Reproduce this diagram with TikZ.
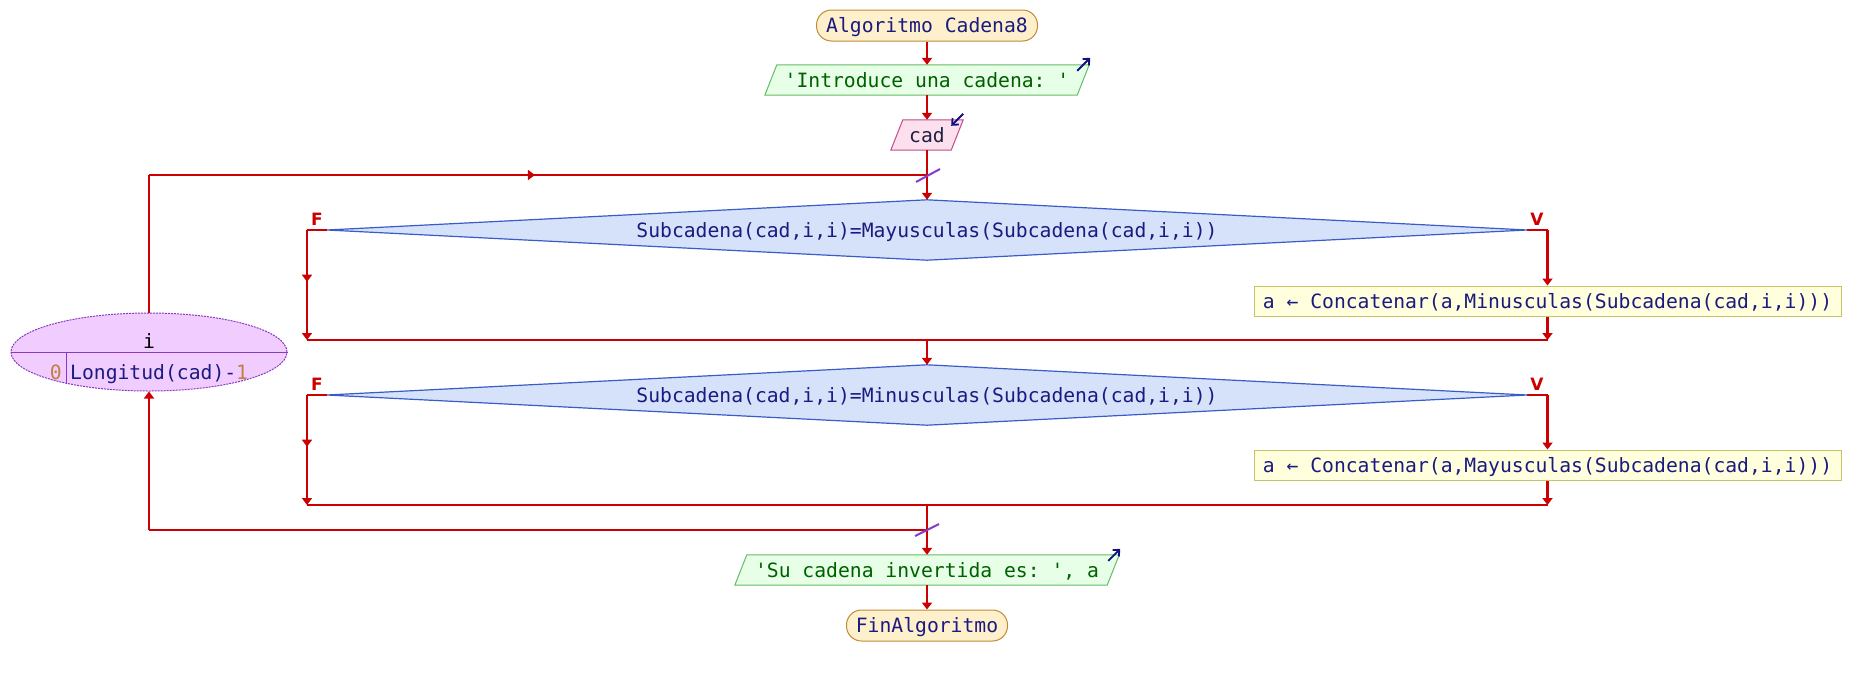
\documentclass[tikz,border=0pt]{standalone}
\usepackage{fontspec}
\setmonofont{DejaVu Sans Mono}
\newfontfamily\lblfont{DejaVu Sans}
\usetikzlibrary{arrows.meta,decorations.markings,backgrounds,shapes.geometric}
\definecolor{flowred}{HTML}{CC0000}
\definecolor{navytxt}{HTML}{1A1A80}
\definecolor{termfill}{HTML}{FFF0CC}
\definecolor{termdraw}{HTML}{C08A3A}
\definecolor{outfill}{HTML}{E6FFE6}
\definecolor{outdraw}{HTML}{66BB66}
\definecolor{outtxt}{HTML}{006000}
\definecolor{infill}{HTML}{FCE0EE}
\definecolor{indraw}{HTML}{C04C88}
\definecolor{intxt}{HTML}{202040}
\definecolor{difill}{HTML}{D6E2FA}
\definecolor{didraw}{HTML}{3A5CC8}
\definecolor{asfill}{HTML}{FFFFDD}
\definecolor{asdraw}{HTML}{C4C46A}
\definecolor{lpfill}{HTML}{F0CCFF}
\definecolor{lpdraw}{HTML}{8A3AC0}
\definecolor{numtxt}{HTML}{C08040}
\definecolor{slashc}{HTML}{8A3AC8}
\definecolor{iotipc}{HTML}{101080}
\tikzset{
  base/.style={font=\ttfamily\fontsize{19.7}{20}\selectfont, inner sep=0pt, text height=14pt, text depth=0pt, align=center},
  term/.style={base, draw=termdraw, fill=termfill, line width=1pt, rounded corners=15pt, minimum height=31pt, text=navytxt},
  iobox/.style={base, minimum height=30pt},
  outshape/.style={draw=outdraw, fill=outfill, line width=1pt},
  inshape/.style={draw=indraw, fill=infill, line width=1pt},
  condbox/.style={base, minimum height=60pt, minimum width=1200pt, text=navytxt},
  dishape/.style={draw=didraw, fill=difill, line width=1.2pt},
  asgn/.style={base, draw=asdraw, fill=asfill, line width=1pt, minimum width=587pt, minimum height=30pt, text=navytxt},
  loopnode/.style={ellipse, draw=lpdraw, fill=lpfill, line width=1pt, dash pattern=on 2pt off 1pt, minimum width=276pt, minimum height=78pt, inner sep=0pt},
  flow/.style={color=flowred, line width=2.2pt},
  tip/.style={-{Triangle[width=10pt,length=7pt]}},
  midtip/.style={postaction={decorate}, decoration={markings, mark=at position #1 with {\arrow{Triangle[width=10pt,length=7pt]}}}},
  slash/.style={draw=slashc, line width=2pt},
  lbl/.style={font=\lblfont\bfseries\fontsize{17}{17}\selectfont, text=flowred, inner sep=0pt},
  iomark/.style={draw=iotipc, line width=1.8pt, -{Straight Barb[length=5pt,width=9pt]}},
  smalltxt/.style={base, inner sep=0pt}
}
\begin{document}
\begin{tikzpicture}[x=1pt,y=-1pt]
\useasboundingbox (0,0) rectangle (1851,675);

% nodes
\node[term, minimum width=221pt] (start) at (927,25.5) {Algoritmo Cadena8};
\node[iobox, minimum width=312pt, text=outtxt] (out1) at (927,80) {'Introduce una cadena: '};
\node[iobox, minimum width=60pt, text=intxt] (cad) at (927,135) {cad};
\node[condbox] (d1) at (927,230) {Subcadena(cad,i,i)=Mayusculas(Subcadena(cad,i,i))};
\node[asgn] (a1) at (1547.5,301) {a ← Concatenar(a,Minusculas(Subcadena(cad,i,i)))};
\node[condbox] (d2) at (927,395) {Subcadena(cad,i,i)=Minusculas(Subcadena(cad,i,i))};
\node[asgn] (a2) at (1547.5,465) {a ← Concatenar(a,Mayusculas(Subcadena(cad,i,i)))};
\node[iobox, minimum width=372pt, text=outtxt] (out2) at (927,570) {'Su cadena invertida es: ', a};
\node[term, minimum width=161pt] (fin) at (927,625.5) {FinAlgoritmo};
\node[loopnode] (lp) at (149,352) {};

\begin{scope}[on background layer]
  \draw[outshape] ([xshift=6pt]out1.north west) -- ([xshift=6pt]out1.north east) -- ([xshift=-6pt]out1.south east) -- ([xshift=-6pt]out1.south west) -- cycle;
  \draw[inshape] ([xshift=6pt]cad.north west) -- ([xshift=6pt]cad.north east) -- ([xshift=-6pt]cad.south east) -- ([xshift=-6pt]cad.south west) -- cycle;
  \draw[outshape] ([xshift=6pt]out2.north west) -- ([xshift=6pt]out2.north east) -- ([xshift=-6pt]out2.south east) -- ([xshift=-6pt]out2.south west) -- cycle;
  \draw[dishape] (d1.west) -- (d1.north) -- (d1.east) -- (d1.south) -- cycle;
  \draw[dishape] (d2.west) -- (d2.north) -- (d2.east) -- (d2.south) -- cycle;
\end{scope}

% loop node contents
\draw[lpdraw, line width=1pt] (lp.west) -- (lp.east);
\coordinate (divtop) at (66,352);
\coordinate (divbot) at (66,384);
\draw[lpdraw, line width=1pt] (divtop) -- (divbot);
\node[smalltxt, text=black] (lvar) at (149,341) {i};
\node[smalltxt, text=numtxt, anchor=east] (lfrom) at (62,372) {0};
\node[smalltxt, anchor=west] (lto) at (70,372) {{\color{navytxt}Longitud(cad)-}{\color{numtxt}1}};

% coordinates
\coordinate (jt) at (927,175);
\coordinate (jb) at (927,530);
\coordinate (m1) at (927,340);
\coordinate (m2) at (927,505);
\coordinate (f1) at (307,230);
\coordinate (f1e) at (307,340);
\coordinate (v1) at (1547.5,230);
\coordinate (v1e) at (1547.5,340);
\coordinate (f2) at (307,395);
\coordinate (f2e) at (307,505);
\coordinate (v2) at (1547.5,395);
\coordinate (v2e) at (1547.5,505);
\coordinate (lt) at (149,175);
\coordinate (lb) at (149,530);

% connectors
\draw[flow,tip] (start.south) -- (out1.north);
\draw[flow,tip] (out1.south) -- (cad.north);
\draw[flow,tip] (cad.south) -- (d1.north);
\draw[flow] (lp.north) -- (lt);
\draw[flow,midtip=0.496] (lt) -- (jt);

\draw[flow] (d1.west) -- (f1);
\draw[flow,tip,midtip=0.47] (f1) -- (f1e);
\draw[flow] (d1.east) -- (v1);
\draw[flow,tip] (v1) -- (a1.north);
\draw[flow,tip] (a1.south) -- (v1e);
\draw[flow] (f1e) -- (v1e);
\draw[flow,tip] (m1) -- (d2.north);

\draw[flow] (d2.west) -- (f2);
\draw[flow,tip,midtip=0.47] (f2) -- (f2e);
\draw[flow] (d2.east) -- (v2);
\draw[flow,tip] (v2) -- (a2.north);
\draw[flow,tip] (a2.south) -- (v2e);
\draw[flow] (f2e) -- (v2e);
\draw[flow,tip] (m2) -- (out2.north);

\draw[flow] (jb) -- (lb);
\draw[flow,tip] (lb) -- (lp.south);
\draw[flow,tip] (out2.south) -- (fin.north);

% junction slashes
\draw[slash] ([shift={(-11,7)}]jt) -- ([shift={(13,-6)}]jt);
\draw[slash] ([shift={(-12,6)}]jb) -- ([shift={(12,-6)}]jb);

% labels
\node[lbl] (lf1) at (317,219) {F};
\node[lbl] (lv1) at (1537,219) {V};
\node[lbl] (lf2) at (317,384) {F};
\node[lbl] (lv2) at (1537,384) {V};

% io markers
\draw[iomark] ([shift={(-6,6)}]out1.north east) -- ([shift={(7,-7)}]out1.north east);
\draw[iomark] ([shift={(6,-6)}]cad.north east) -- ([shift={(-6,6)}]cad.north east);
\draw[iomark] ([shift={(-5,6)}]out2.north east) -- ([shift={(7,-6)}]out2.north east);
\end{tikzpicture}
\end{document}
